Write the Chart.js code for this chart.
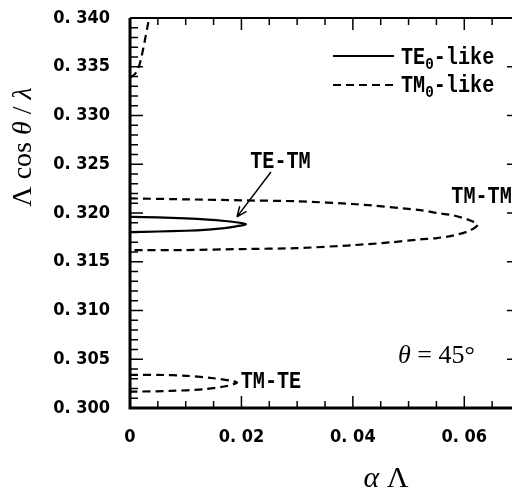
<!DOCTYPE html>
<html>
<head>
<meta charset="utf-8">
<script src="https://cdn.jsdelivr.net/npm/chart.js@4/dist/chart.umd.min.js"></script>
<style>
  html, body { margin: 0; padding: 0; background: #fff; overflow: hidden; }
  #wrap { width: 512px; height: 490px; overflow: hidden; }
</style>
</head>
<body>
<div id="wrap"><canvas id="chart" width="522" height="490"></canvas></div>
<script>
// axis ranges and tick labels
const xMin = 0, xMax = 0.07;
const yMin = 0.300, yMax = 0.340;
const xLabelValues = [0, 0.02, 0.04, 0.06];
const xTickLabels = ['0', '0. 02', '0. 04', '0. 06'];
const yLabelValues = [0.300, 0.305, 0.310, 0.315, 0.320, 0.325, 0.330, 0.335, 0.340];
const yTickLabels = ['0. 300', '0. 305', '0. 310', '0. 315', '0. 320', '0. 325', '0. 330', '0. 335', '0. 340'];

// TE0-like branch (TE-TM loop), solid
const teTmX = [0, 0.005, 0.01, 0.014, 0.017, 0.019, 0.0203, 0.0208, 0.0203, 0.019, 0.017, 0.014, 0.01, 0.005, 0];
const teTmY = [0.31960, 0.31955, 0.31945, 0.31932, 0.31918, 0.31905, 0.31893, 0.31885, 0.31875, 0.31862, 0.31845, 0.31830, 0.31818, 0.31810, 0.31805];

// TM0-like branches, dashed
const tmTmX = [0, 0.01, 0.02, 0.03, 0.0406, 0.0521, 0.0551, 0.0581, 0.0611, 0.0624, 0.0611, 0.0581, 0.0551, 0.0521, 0.047, 0.04, 0.03, 0.02, 0.01, 0];
const tmTmY = [0.3215, 0.3214, 0.3213, 0.3212, 0.3209, 0.3203, 0.3200, 0.31975, 0.31924, 0.3188, 0.31822, 0.3177, 0.31743, 0.3173, 0.3170, 0.3167, 0.3164, 0.3163, 0.3162, 0.3162];
const tmTeX = [0, 0.005, 0.0102, 0.015, 0.018, 0.0192, 0.0174, 0.0132, 0.0072, 0];
const tmTeY = [0.3034, 0.3034, 0.3033, 0.30305, 0.3028, 0.3026, 0.30226, 0.30192, 0.30175, 0.30167];
const tmTopX = [0, 0.0006, 0.0012, 0.0017, 0.0021, 0.0027, 0.0031, 0.0035];
const tmTopY = [0.3339, 0.3341, 0.3345, 0.3352, 0.3361, 0.3378, 0.3390, 0.3402];

// annotation labels (data coordinates)
const notes = [
    { text: 'TE-TM', x: 0.0270, y: 0.3254 },
    { text: 'TM-TM', x: 0.0631, y: 0.3218 },
    { text: 'TM-TE', x: 0.0253, y: 0.3029 }
];

const toPts = (xs, ys) => xs.map((x, i) => ({ x: x, y: ys[i] }));
const near = (a, b) => Math.abs(a - b) < 1e-9;

const monoFont = '"Liberation Mono", monospace';
const serifFont = '"Liberation Serif", "DejaVu Serif", serif';

// draw text squeezed horizontally (the original uses a narrow font)
function narrowText(ctx, str, x, y, size, align, sx) {
    ctx.save();
    ctx.font = 'bold ' + size + 'px ' + monoFont;
    const w = ctx.measureText(str).width * sx;
    let x0 = x;
    if (align === 'center') x0 = x - w / 2;
    if (align === 'right') x0 = x - w;
    ctx.translate(x0, y);
    ctx.scale(sx, 1);
    ctx.textAlign = 'left';
    ctx.textBaseline = 'alphabetic';
    ctx.fillText(str, 0, 0);
    ctx.restore();
    return w;
}

// draw a run of [text, italic] pieces starting at x
function drawRun(ctx, pieces, x, y, size) {
    pieces.forEach(([s, it]) => {
        ctx.font = (it ? 'italic ' : '') + size + 'px ' + serifFont;
        ctx.fillText(s, x, y);
        x += ctx.measureText(s).width;
    });
}
function runWidth(ctx, pieces, size) {
    let w = 0;
    pieces.forEach(([s, it]) => {
        ctx.font = (it ? 'italic ' : '') + size + 'px ' + serifFont;
        w += ctx.measureText(s).width;
    });
    return w;
}

const framePlugin = {
    id: 'frame',
    afterDraw(chart) {
        const ctx = chart.ctx;
        const a = chart.chartArea;
        const xs = chart.scales.x, ys = chart.scales.y;
        ctx.save();
        ctx.strokeStyle = '#000';
        ctx.fillStyle = '#000';

        // inward tick marks on all four sides
        ctx.lineWidth = 1.5;
        ctx.beginPath();
        xs.ticks.forEach(t => {
            const px = xs.getPixelForValue(t.value);
            const major = xLabelValues.some(v => near(v, t.value)) || near(t.value, 0.07);
            const len = major ? 12 : 7;
            ctx.moveTo(px, a.bottom); ctx.lineTo(px, a.bottom - len);
            ctx.moveTo(px, a.top); ctx.lineTo(px, a.top + len);
        });
        ys.ticks.forEach(t => {
            const py = ys.getPixelForValue(t.value);
            const major = yLabelValues.some(v => near(v, t.value));
            const len = major ? 13 : 8;
            ctx.moveTo(a.left, py); ctx.lineTo(a.left + len, py);
            ctx.moveTo(a.right, py); ctx.lineTo(a.right - len, py);
        });
        ctx.stroke();

        // frame
        ctx.lineWidth = 3;
        ctx.beginPath();
        ctx.moveTo(a.left, a.top); ctx.lineTo(a.left, a.bottom); ctx.lineTo(a.right, a.bottom);
        ctx.stroke();
        ctx.lineWidth = 2;
        ctx.beginPath();
        ctx.moveTo(a.left, a.top); ctx.lineTo(a.right, a.top); ctx.lineTo(a.right, a.bottom);
        ctx.stroke();

        // legend
        ctx.lineWidth = 2.2;
        ctx.beginPath();
        ctx.moveTo(333, 56); ctx.lineTo(394, 56);
        ctx.stroke();
        ctx.setLineDash([8, 5]);
        ctx.beginPath();
        ctx.moveTo(333, 85); ctx.lineTo(394, 85);
        ctx.stroke();
        ctx.setLineDash([]);
        let lx = 401;
        lx += narrowText(ctx, 'TE', lx, 64, 24, 'left', 0.84);
        lx += narrowText(ctx, '0', lx, 69, 17, 'left', 0.84);
        narrowText(ctx, '-like', lx, 64, 24, 'left', 0.84);
        lx = 401;
        lx += narrowText(ctx, 'TM', lx, 92, 24, 'left', 0.84);
        lx += narrowText(ctx, '0', lx, 97, 17, 'left', 0.84);
        narrowText(ctx, '-like', lx, 92, 24, 'left', 0.84);

        // branch labels
        notes.forEach(n => {
            narrowText(ctx, n.text, xs.getPixelForValue(n.x), ys.getPixelForValue(n.y) + 8, 24, 'center', 0.84);
        });

        // arrow to the TE-TM loop
        const x1 = xs.getPixelForValue(0.0253), y1 = ys.getPixelForValue(0.3242);
        const x2 = xs.getPixelForValue(0.0192), y2 = ys.getPixelForValue(0.3196);
        ctx.lineWidth = 1.5;
        ctx.beginPath();
        ctx.moveTo(x1, y1); ctx.lineTo(x2, y2);
        const ang = Math.atan2(y2 - y1, x2 - x1);
        ctx.moveTo(x2, y2); ctx.lineTo(x2 - 11 * Math.cos(ang - 0.4), y2 - 11 * Math.sin(ang - 0.4));
        ctx.moveTo(x2, y2); ctx.lineTo(x2 - 11 * Math.cos(ang + 0.4), y2 - 11 * Math.sin(ang + 0.4));
        ctx.stroke();

        // theta = 45 deg
        ctx.textAlign = 'left';
        ctx.textBaseline = 'alphabetic';
        const tp = [['θ', true], [' = 45°', false]];
        const tx = xs.getPixelForValue(0.055), ty = ys.getPixelForValue(0.3055);
        drawRun(ctx, tp, tx - runWidth(ctx, tp, 26) / 2, ty + 9, 26);

        // axis titles
        const xt = [['α', true], [' Λ', false]];
        drawRun(ctx, xt, 386 - runWidth(ctx, xt, 30) / 2, 487, 30);
        const yt = [['Λ', false], [' cos ', false], ['θ', true], [' / ', false], ['λ', true]];
        ctx.translate(31, 147);
        ctx.rotate(-Math.PI / 2);
        drawRun(ctx, yt, -runWidth(ctx, yt, 28) / 2, 0, 28);
        ctx.restore();
    }
};

// keep the plot box fixed: no extra room reserved for half labels
function pinScale(s, prop, size) {
    s[prop] = size;
    s.paddingTop = 0; s.paddingBottom = 0; s.paddingLeft = 0; s.paddingRight = 0;
}

const lineStyle = { showLine: true, pointRadius: 0, borderColor: '#000', borderWidth: 2.2, tension: 0.25, fill: false };

new Chart(document.getElementById('chart'), {
    type: 'scatter',
    data: {
        datasets: [
            Object.assign({ label: 'TE0-like', data: toPts(teTmX, teTmY) }, lineStyle),
            Object.assign({ label: 'TM0-like', data: toPts(tmTmX, tmTmY), borderDash: [8, 5] }, lineStyle),
            Object.assign({ label: 'TM0-like', data: toPts(tmTeX, tmTeY), borderDash: [8, 5] }, lineStyle),
            Object.assign({ label: 'TM0-like', data: toPts(tmTopX, tmTopY), borderDash: [8, 5] }, lineStyle)
        ]
    },
    options: {
        responsive: false,
        animation: false,
        layout: { padding: { top: 18, right: 2, left: 0, bottom: 0 } },
        plugins: { legend: { display: false }, tooltip: { enabled: false } },
        scales: {
            x: {
                type: 'linear', min: xMin, max: xMax,
                grid: { display: false, drawTicks: false },
                border: { display: false },
                afterFit: s => pinScale(s, 'height', 82),
                ticks: {
                    stepSize: 0.005, autoSkip: false, maxRotation: 0, padding: 19,
                    color: '#000',
                    font: { family: '"DejaVu Sans Condensed", "DejaVu Sans"', size: 18, weight: 'bold' },
                    callback: v => {
                        const i = xLabelValues.findIndex(t => near(t, v));
                        return i >= 0 ? xTickLabels[i] : '';
                    }
                }
            },
            y: {
                type: 'linear', min: yMin, max: yMax,
                grid: { display: false, drawTicks: false },
                border: { display: false },
                afterFit: s => pinScale(s, 'width', 130),
                ticks: {
                    stepSize: 0.001, autoSkip: false, padding: 20,
                    color: '#000',
                    font: { family: '"DejaVu Sans Condensed", "DejaVu Sans"', size: 18, weight: 'bold' },
                    callback: v => {
                        const i = yLabelValues.findIndex(t => near(t, v));
                        return i >= 0 ? yTickLabels[i] : '';
                    }
                }
            }
        }
    },
    plugins: [framePlugin]
});
</script>
</body>
</html>
